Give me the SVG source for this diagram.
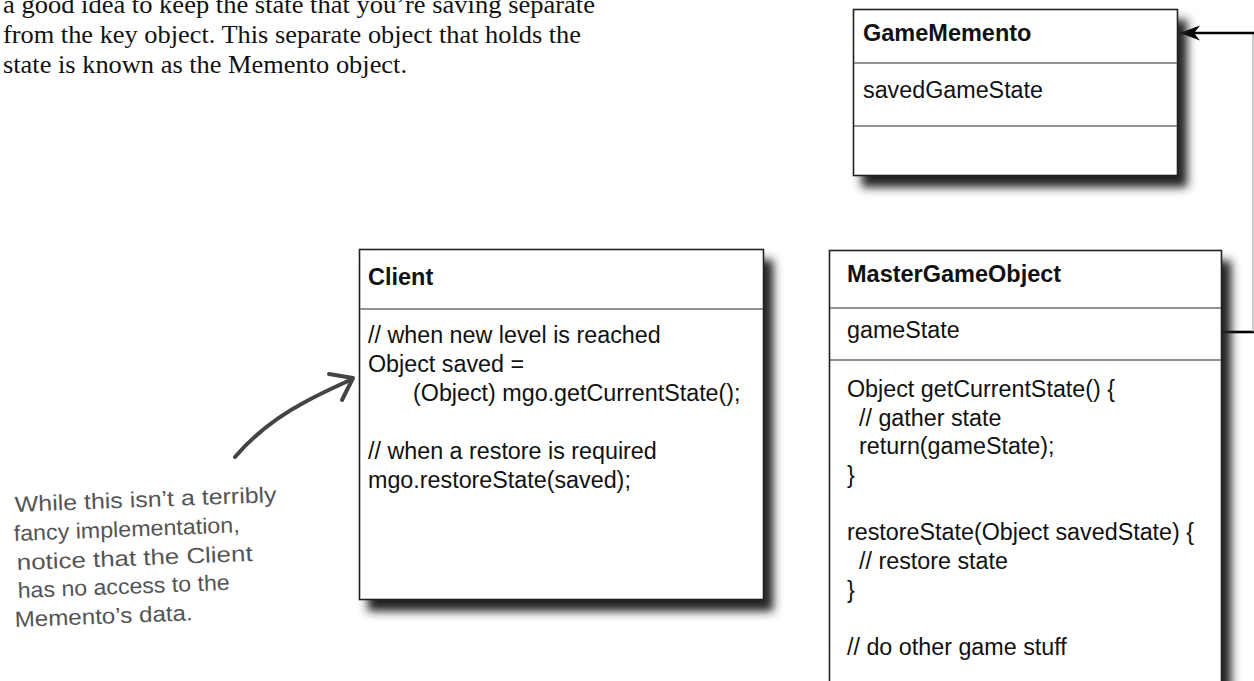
<svg xmlns="http://www.w3.org/2000/svg" width="1254" height="681" viewBox="0 0 1254 681">
  <style>
    .intro { font-family: "Liberation Serif", "Times New Roman", serif; font-size: 26px; fill: #111; }
    .box { fill: #fff; stroke: #222; stroke-width: 1.6; filter: url(#shadow); }
    .div { stroke: #6e6e6e; stroke-width: 1.6; }
    .title { font-family: "Liberation Sans", Arial, sans-serif; font-weight: bold; font-size: 23.5px; fill: #111; }
    .body { font-family: "Liberation Sans", Arial, sans-serif; font-size: 23.3px; fill: #111; }
    .note { font-family: "Liberation Sans", Arial, sans-serif; font-size: 22px; fill: #555; }
    .conn { fill: none; stroke: #000; stroke-width: 2.6; }
    .hand { fill: none; stroke: #444; stroke-width: 4; stroke-linecap: round; stroke-linejoin: round; }
  </style>
  <defs>
    <filter id="shadow" x="-10%" y="-10%" width="130%" height="130%">
      <feDropShadow dx="9" dy="11" stdDeviation="5" flood-color="#222" flood-opacity="1"/>
    </filter>
    <marker id="arrow" viewBox="-22 -9 24 18" markerWidth="24" markerHeight="18" refX="0" refY="0" orient="auto" markerUnits="userSpaceOnUse">
      <path d="M0,0 L-20,-7.5 L-14,0 L-20,7.5 Z" fill="#000"/>
    </marker>
  </defs>
  <rect width="1254" height="681" fill="#fff"/>

  <g id="intro-text">
    <text class="intro" x="3" y="13" textLength="592" lengthAdjust="spacingAndGlyphs">a good idea to keep the state that you’re saving separate</text>
    <text class="intro" x="3" y="43" textLength="578" lengthAdjust="spacingAndGlyphs">from the key object. This separate object that holds the</text>
    <text class="intro" x="3" y="73" textLength="404" lengthAdjust="spacingAndGlyphs">state is known as the Memento object.</text>
  </g>

  <g id="connectors">
    <path class="conn" d="M1222,332 H1254"/>
    <line x1="1253" y1="33" x2="1253" y2="332" stroke="#999" stroke-width="1"/>
    <path class="conn" d="M1254,33 H1180" marker-end="url(#arrow)"/>
    <path class="hand" d="M235,457 C252,437 275,418 305,402 C325,391 342,384 352,379"/>
    <path class="hand" d="M329,374 L353,378 L342,400"/>
  </g>

  <g id="GameMemento">
    <rect class="box" x="853.5" y="9.5" width="324" height="166"/>
    <line class="div" x1="854" y1="63" x2="1177" y2="63"/>
    <line class="div" x1="854" y1="126" x2="1177" y2="126"/>
    <text class="title" x="863" y="41">GameMemento</text>
    <text class="body" x="863" y="98">savedGameState</text>
  </g>

  <g id="Client">
    <rect class="box" x="359.5" y="249.5" width="404" height="350"/>
    <line class="div" x1="360" y1="309" x2="763" y2="309"/>
    <text class="title" x="368" y="285">Client</text>
    <text class="body" x="368" y="343">// when new level is reached</text>
    <text class="body" x="368" y="372">Object saved =</text>
    <text class="body" x="413" y="401">(Object) mgo.getCurrentState();</text>
    <text class="body" x="368" y="459">// when a restore is required</text>
    <text class="body" x="368" y="488">mgo.restoreState(saved);</text>
  </g>

  <g id="MasterGameObject">
    <rect class="box" x="829.5" y="250.5" width="392" height="460"/>
    <line class="div" x1="830" y1="308" x2="1221" y2="308"/>
    <line class="div" x1="830" y1="360" x2="1221" y2="360"/>
    <text class="title" x="847" y="282">MasterGameObject</text>
    <text class="body" x="847" y="338">gameState</text>
    <text class="body" x="847" y="397">Object getCurrentState() {</text>
    <text class="body" x="859" y="426">// gather state</text>
    <text class="body" x="859" y="454">return(gameState);</text>
    <text class="body" x="847" y="483">}</text>
    <text class="body" x="847" y="540">restoreState(Object savedState) {</text>
    <text class="body" x="859" y="569">// restore state</text>
    <text class="body" x="847" y="598">}</text>
    <text class="body" x="847" y="655">// do other game stuff</text>
  </g>

  <g id="note">
    <text class="note" x="15" y="512" transform="rotate(-2.2 15 512)" textLength="262" lengthAdjust="spacingAndGlyphs">While this isn’t a terribly</text>
    <text class="note" x="14" y="541" transform="rotate(-2.2 14 541)" textLength="226" lengthAdjust="spacingAndGlyphs">fancy implementation,</text>
    <text class="note" x="17" y="570" transform="rotate(-2.2 17 570)" textLength="236" lengthAdjust="spacingAndGlyphs">notice that the Client</text>
    <text class="note" x="18" y="598" transform="rotate(-2.2 18 598)" textLength="212" lengthAdjust="spacingAndGlyphs">has no access to the</text>
    <text class="note" x="15" y="627" transform="rotate(-2.2 15 627)" textLength="178" lengthAdjust="spacingAndGlyphs">Memento’s data.</text>
  </g>
</svg>
